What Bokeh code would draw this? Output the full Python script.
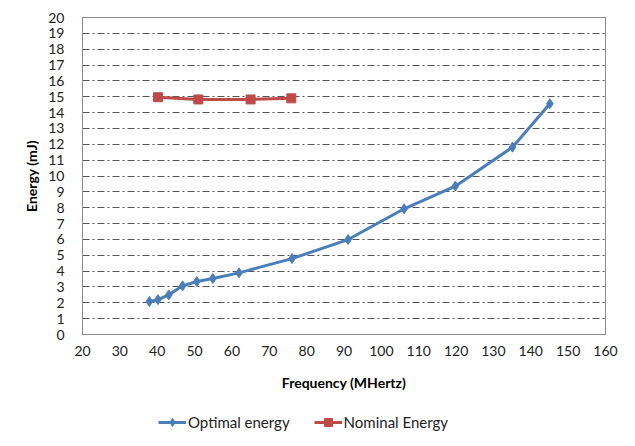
from bokeh.plotting import figure
from bokeh.models import FixedTicker, Range1d, Legend, LegendItem
from bokeh.layouts import column
from bokeh.embed import file_html
from bokeh.resources import INLINE

opt_freq = [37.9, 40.2, 43.1, 46.8, 50.6, 54.9, 61.9, 76.1, 91.1, 106.1, 119.8, 135.1, 145.1]
opt_energy = [2.08, 2.2, 2.5, 3.07, 3.34, 3.53, 3.89, 4.79, 5.99, 7.93, 9.36, 11.82, 14.56]
nom_freq = [40.2, 51.0, 65.0, 75.9]
nom_energy = [14.97, 14.83, 14.83, 14.9]
x_ticks = list(range(20, 161, 10))
y_ticks = list(range(0, 21, 1))
series_names = ["Optimal energy", "Nominal Energy"]

FONT = "Lato"
BLUE = "#4A7EBB"
RED = "#BE4B48"

p = figure(output_backend="svg", toolbar_location=None,
           width=627, height=404,
           min_border_left=82, min_border_right=22, min_border_top=17, min_border_bottom=70,
           x_range=Range1d(20, 160), y_range=Range1d(0, 20))

p.background_fill_color = "white"
p.border_fill_color = "white"
p.outline_line_color = "#8c8c8c"
p.outline_line_width = 1

p.xgrid.grid_line_color = None
p.ygrid.grid_line_color = "#555555"
p.ygrid.grid_line_dash = "7 3 2 3"
p.ygrid.grid_line_width = 1

for ax in (p.xaxis[0], p.yaxis[0]):
    ax.major_tick_line_color = None
    ax.minor_tick_line_color = None
    ax.axis_line_color = "#8c8c8c"
    ax.major_label_text_font = FONT
    ax.major_label_text_font_size = "14px"
    ax.major_label_text_color = "#222222"
    ax.axis_label_text_font = FONT
    ax.axis_label_text_font_size = "14px"
    ax.axis_label_text_font_style = "bold"
    ax.axis_label_text_color = "black"

p.xaxis.ticker = FixedTicker(ticks=x_ticks)
p.yaxis.ticker = FixedTicker(ticks=y_ticks)
p.xaxis.axis_label = "Frequency (MHertz)"
p.yaxis.axis_label = "Energy (mJ)"
p.xaxis.major_label_standoff = 5
p.xaxis.axis_label_standoff = 15
p.yaxis.major_label_standoff = 12
p.yaxis.axis_label_standoff = 5

p.line(opt_freq, opt_energy, line_color=BLUE, line_width=3)
p.scatter(opt_freq, opt_energy, marker="diamond", size=10, fill_color=BLUE, line_color=BLUE)
p.line(nom_freq, nom_energy, line_color=RED, line_width=3)
p.scatter(nom_freq, nom_energy, marker="square", size=9, fill_color=RED, line_color=RED)

# legend strip below the chart (its renderers lie outside its own view range)
q = figure(output_backend="svg", toolbar_location=None, width=627, height=34,
           min_border_left=0, min_border_right=0, min_border_top=0, min_border_bottom=0,
           x_range=Range1d(0, 1), y_range=Range1d(0, 1))
q.axis.visible = False
q.grid.grid_line_color = None
q.outline_line_color = None
q.background_fill_color = "white"
q.border_fill_color = "white"

ql1 = q.line(opt_freq, opt_energy, line_color=BLUE, line_width=3)
qm1 = q.scatter(opt_freq, opt_energy, marker="diamond", size=10, fill_color=BLUE, line_color=BLUE)
ql2 = q.line(nom_freq, nom_energy, line_color=RED, line_width=3)
qm2 = q.scatter(nom_freq, nom_energy, marker="square", size=9, fill_color=RED, line_color=RED)

legend = Legend(items=[LegendItem(label=series_names[0], renderers=[ql1, qm1]),
                       LegendItem(label=series_names[1], renderers=[ql2, qm2])],
                orientation="horizontal", location=(76, 6),
                label_text_font=FONT, label_text_font_size="15px", label_text_color="#222222",
                border_line_color=None, background_fill_alpha=0,
                glyph_width=28, label_standoff=2, spacing=24, padding=0, margin=0)
q.add_layout(legend, "center")

layout = column(p, q, spacing=0)
open("out.html", "w").write(file_html(layout, INLINE))
